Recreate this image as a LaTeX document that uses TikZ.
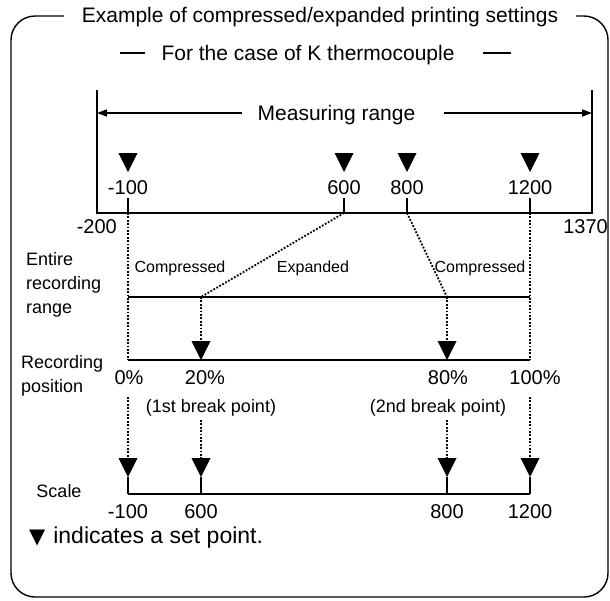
\documentclass[tikz,border=0pt]{standalone}
\usepackage{fontspec}
\setmainfont{Liberation Sans}
\newfontfamily\symfont{DejaVu Sans}
\usetikzlibrary{arrows.meta}
\tikzset{
  >={Triangle[length=10pt,width=7pt]},
  frame/.style ={line width=1.4pt,rounded corners=24pt},
  axis/.style  ={line width=1.8pt},
  thin/.style  ={line width=1.4pt},
  guide/.style ={line width=1.8pt,dash pattern=on 1.8pt off 1.6pt},
  big/.style   ={font=\fontsize{21}{25}\selectfont,inner sep=0pt,text height=15pt,text depth=0pt},
  num/.style   ={font=\fontsize{20}{24}\selectfont,inner sep=0pt,text height=14.3pt,text depth=0pt},
  lbl/.style   ={font=\fontsize{18}{24}\selectfont,inner sep=0pt,align=left},
  brk/.style   ={font=\fontsize{18}{22}\selectfont,inner sep=0pt,text height=13pt,text depth=0pt},
  sml/.style   ={font=\fontsize{16}{20}\selectfont,inner sep=0pt,text height=11.5pt,text depth=0pt},
  setpt/.pic   ={\fill (-9.5,-19) -- (9.5,-19) -- (0,0) -- cycle;},
}
\begin{document}
\begin{tikzpicture}[x=1pt,y=-1pt]
\useasboundingbox (0,0) rectangle (610,600);
\draw[frame] (11,16) rectangle (608,597);
\node[big,fill=white,inner xsep=18pt,inner ysep=4pt] (title) at (320,15)
  {Example of compressed/expanded printing settings};
\node[big] (sub) at (308,53) {For the case of K thermocouple};
\draw[thin] ([xshift=-41pt]sub.west) -- ([xshift=-16pt]sub.west);
\draw[thin] ([xshift=28pt]sub.east) -- ([xshift=56pt]sub.east);

% measuring range
\coordinate (mL) at (97,90);
\coordinate (mR) at (592,90);
\coordinate (bL) at (97,213);
\coordinate (bR) at (592,213);
\draw[axis] (mL) -- (bL) -- (bR) -- (mR);
\node[big] (mr) at (336.5,113) {Measuring range};
\draw[thin,->] ([xshift=-16pt]mr.west) -- (mr.west -| mL);
\draw[thin,->] ([xshift=28pt]mr.east) -- (mr.east -| mR);
\foreach \x/\v [count=\i] in {128/-100,344/600,407/800,530/1200}{
  \pic at (\x,172) {setpt};
  \node[num] (m\i) at (\x,187) {\v};
  \coordinate (k\i) at (\x,213);
  \draw[axis] (k\i) -- ++(0,-15);
}
\node[num,anchor=east] (lo) at (117,226) {-200};
\node[num,anchor=east] (hi) at (608,226) {1370};

% entire recording range
\coordinate (e0) at (128,297);
\coordinate (e1) at (530,297);
\coordinate (eA) at (201,297);
\coordinate (eB) at (447,297);
\coordinate (r0) at (128,360);
\coordinate (r1) at (530,360);
\node[lbl,anchor=north west] (ent) at (26,252) {Entire\\recording\\range};
\node[sml] (c1) at (180,267) {Compressed};
\node[sml] (ex) at (313,267) {Expanded};
\node[sml] (c2) at (480,267) {Compressed};
\draw[guide] (k1) -- (r0);
\draw[guide] (k4) -- (r1);
\draw[guide] (k2) -- (eA);
\draw[guide] (k3) -- (eB);
\draw[axis] (e0) -- (e1);

% recording position
\draw[guide] (eA) -- (201,341);
\draw[guide] (eB) -- (447,341);
\pic at (201,360) {setpt};
\pic at (447,360) {setpt};
\draw[axis] (r0) -- (r1);
\node[lbl,anchor=north west] (pos) at (21,355) {Recording\\position};
\node[num] (p0) at (129,377) {0\%};
\node[num] (p1) at (205,377) {20\%};
\node[num] (p2) at (448,377) {80\%};
\node[num] (p3) at (535,377) {100\%};
\node[brk] (b1) at (211,406) {(1st break point)};
\node[brk] (b2) at (438,406) {(2nd break point)};

% scale
\foreach \x/\v/\t [count=\i] in {128/-100/397,201/600/420,447/800/420,530/1200/397}{
  \draw[guide] (\x,\t) -- (\x,458);
  \pic at (\x,477) {setpt};
  \coordinate (s\i) at (\x,494);
  \draw[axis] (s\i) -- ++(0,-17);
  \node[num] (v\i) at (\x,511) {\v};
}
\draw[axis] (s1) -- (s4);
\node[brk] (sc) at (59,491) {Scale};
\node[font=\fontsize{23}{27}\selectfont,inner sep=0pt,anchor=west] (key) at (29,538)
  {{\symfont\fontsize{21}{24}\selectfont ▼}\hspace{8pt}indicates a set point.};
\end{tikzpicture}
\end{document}
